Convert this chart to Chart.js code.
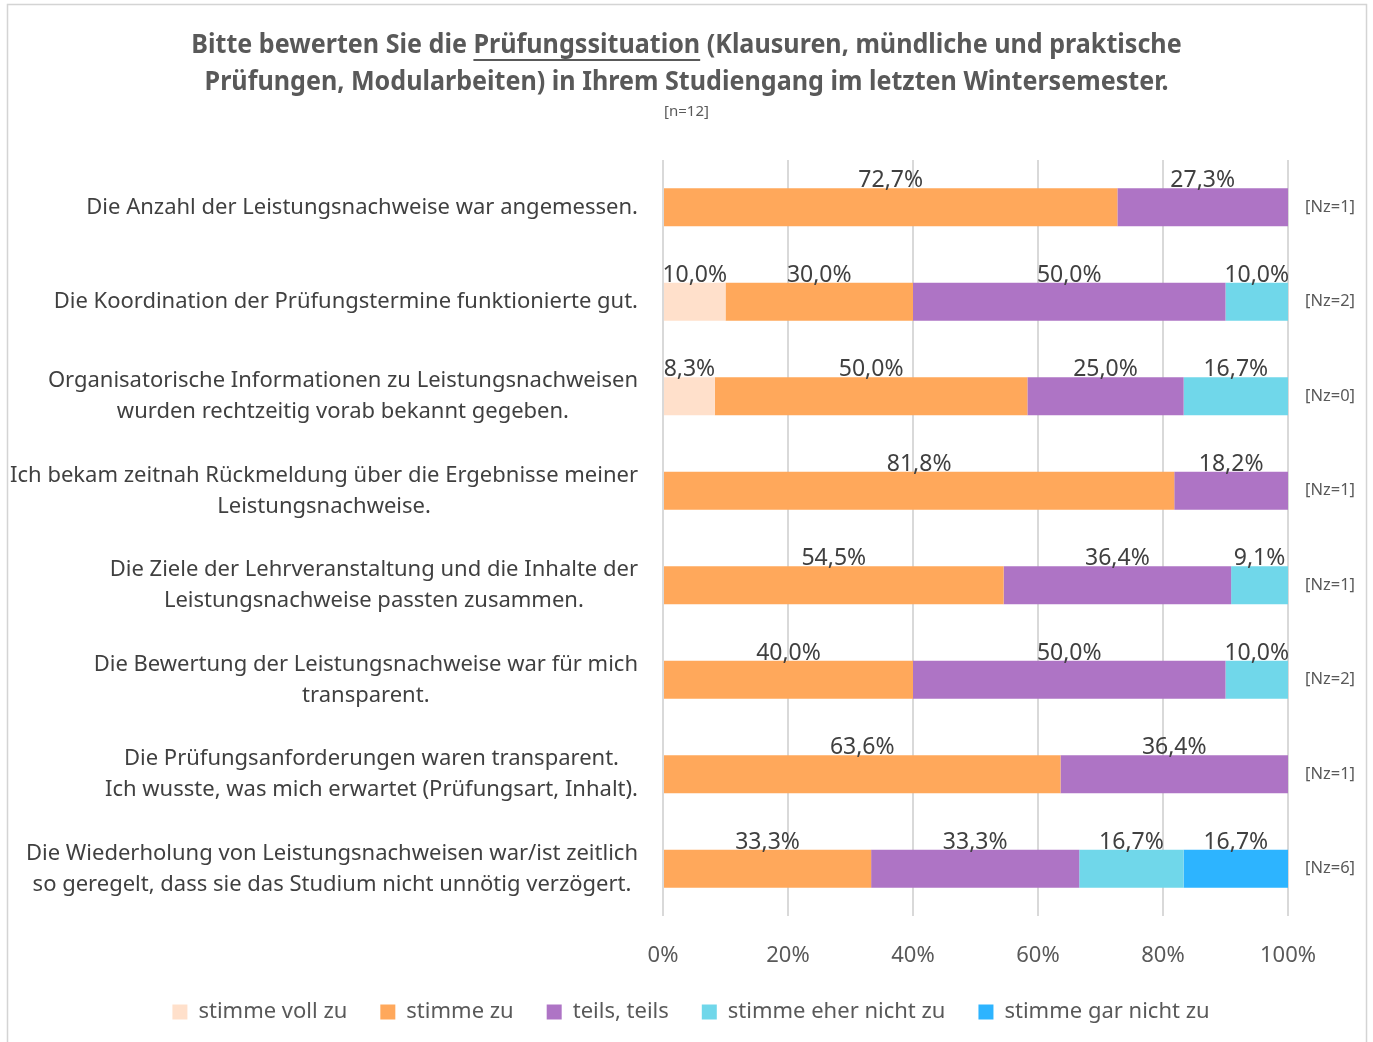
<!DOCTYPE html>
<html lang="de">
<head>
<meta charset="utf-8">
<script src="https://cdn.jsdelivr.net/npm/chart.js@4"></script>
<style>
  html, body { margin: 0; padding: 0; background: #fff; }
  #chart { display: block; }
</style>
</head>
<body>
<canvas id="chart" width="1373" height="1042"></canvas>
<script>
// Questions (y categories), one array per answer option, Nz counts
const questions = [
  'Die Anzahl der Leistungsnachweise war angemessen.',
  'Die Koordination der Prüfungstermine funktionierte gut.',
  ['Organisatorische Informationen zu Leistungsnachweisen', 'wurden rechtzeitig vorab bekannt gegeben.'],
  ['Ich bekam zeitnah Rückmeldung über die Ergebnisse meiner', 'Leistungsnachweise.'],
  ['Die Ziele der Lehrveranstaltung und die Inhalte der', 'Leistungsnachweise passten zusammen.'],
  ['Die Bewertung der Leistungsnachweise war für mich', 'transparent.'],
  ['Die Prüfungsanforderungen waren transparent.', 'Ich wusste, was mich erwartet (Prüfungsart, Inhalt).'],
  ['Die Wiederholung von Leistungsnachweisen war/ist zeitlich', 'so geregelt, dass sie das Studium nicht unnötig verzögert.']
];
const nzLabels = ['[Nz=1]', '[Nz=2]', '[Nz=0]', '[Nz=1]', '[Nz=1]', '[Nz=2]', '[Nz=1]', '[Nz=6]'];

const stimmeVollZu      = [0, 10.0, 8.3, 0, 0, 0, 0, 0];
const stimmeZu          = [72.7, 30.0, 50.0, 81.8, 54.5, 40.0, 63.6, 33.3];
const teilsTeils        = [27.3, 50.0, 25.0, 18.2, 36.4, 50.0, 36.4, 33.3];
const stimmeEherNichtZu = [0, 10.0, 16.7, 0, 9.1, 10.0, 0, 16.7];
const stimmeGarNichtZu  = [0, 0, 0, 0, 0, 0, 0, 16.7];

const xTicks = [0, 20, 40, 60, 80, 100];

const titleLine1 = ['Bitte bewerten Sie die ', 'Prüfungssituation', ' (Klausuren, mündliche und praktische'];
const titleLine2 = 'Prüfungen, Modularbeiten) in Ihrem Studiengang im letzten Wintersemester.';
const subTitle = '[n=12]';

const FONT = '"Noto Sans", "Open Sans", sans-serif';
const TITLE_SQUEEZE = 0.93;

const fmtPct = v => v.toFixed(1).replace('.', ',') + '%';

// Title, frame, category labels, Nz labels and segment values
const extras = {
  id: 'extras',
  afterDraw(chart) {
    const ctx = chart.ctx;
    const area = chart.chartArea;
    const yScale = chart.scales.y;
    const mid = chart.width / 2;
    ctx.save();

    ctx.strokeStyle = '#d4d4d4';
    ctx.lineWidth = 1.5;
    ctx.strokeRect(7.5, 4.5, 1359, 1100);

    // title (slightly condensed), underlined keyword
    ctx.save();
    ctx.translate(mid, 0);
    ctx.scale(TITLE_SQUEEZE, 1);
    ctx.fillStyle = '#595959';
    ctx.textBaseline = 'middle';
    ctx.font = 'bold 27px ' + FONT;
    let x = -ctx.measureText(titleLine1.join('')).width / 2;
    ctx.textAlign = 'left';
    titleLine1.forEach((part, k) => {
      ctx.fillText(part, x, 45);
      const w = ctx.measureText(part).width;
      if (k === 1) ctx.fillRect(x, 59, w, 2);
      x += w;
    });
    ctx.textAlign = 'center';
    ctx.fillText(titleLine2, 0, 82);
    ctx.restore();

    ctx.fillStyle = '#595959';
    ctx.textAlign = 'center';
    ctx.textBaseline = 'middle';
    ctx.font = '15px ' + FONT;
    ctx.fillText(subTitle, mid, 112);

    // category labels: block right-aligned, lines centered
    ctx.font = '22px ' + FONT;
    ctx.fillStyle = '#404040';
    questions.forEach((q, i) => {
      const lines = Array.isArray(q) ? q : [q];
      const w = Math.max(...lines.map(l => ctx.measureText(l).width));
      const cx = area.left - 25 - w / 2;
      const cy = yScale.getPixelForValue(i);
      lines.forEach((l, k) => ctx.fillText(l, cx, cy + (k - (lines.length - 1) / 2) * 31));
    });

    // Nz labels
    ctx.font = '16.5px ' + FONT;
    ctx.fillStyle = '#595959';
    nzLabels.forEach((t, i) => ctx.fillText(t, area.right + 42, yScale.getPixelForValue(i)));

    // segment values above the bars
    ctx.font = '23px ' + FONT;
    ctx.fillStyle = '#404040';
    ctx.textBaseline = 'bottom';
    chart.data.datasets.forEach((ds, di) => {
      chart.getDatasetMeta(di).data.forEach((bar, i) => {
        const v = ds.data[i];
        if (!v) return;
        ctx.fillText(fmtPct(v), (bar.x + bar.base) / 2, bar.y - bar.height / 2 + 4);
      });
    });
    ctx.restore();
  }
};

const makeSet = (label, data, color) => ({
  label, data, backgroundColor: color, borderWidth: 0,
  categoryPercentage: 1, barPercentage: 0.4
});

new Chart(document.getElementById('chart'), {
  type: 'bar',
  data: {
    labels: questions,
    datasets: [
      makeSet('stimme voll zu', stimmeVollZu, '#ffe0cb'),
      makeSet('stimme zu', stimmeZu, '#ffa85b'),
      makeSet('teils, teils', teilsTeils, '#ae74c5'),
      makeSet('stimme eher nicht zu', stimmeEherNichtZu, '#70d7ea'),
      makeSet('stimme gar nicht zu', stimmeGarNichtZu, '#2db4ff')
    ]
  },
  options: {
    indexAxis: 'y',
    responsive: false,
    animation: false,
    layout: { padding: { top: 160, right: 0, left: 9, bottom: 9 } },
    scales: {
      x: {
        stacked: true,
        min: 0,
        max: 100,
        afterBuildTicks: s => { s.ticks = xTicks.map(v => ({ value: v })); },
        afterFit: s => { s.height = 52; },
        grid: { color: '#d9d9d9', lineWidth: 2, drawTicks: false },
        border: { display: false },
        ticks: {
          padding: 27,
          color: '#595959',
          font: { family: FONT, size: 22 },
          callback: v => v + '%'
        }
      },
      y: {
        stacked: true,
        grid: { display: false },
        border: { display: false },
        ticks: { display: false },
        afterFit: s => { s.width = 654; }
      },
      // empty column on the right that holds the Nz labels
      nz: {
        type: 'category',
        position: 'right',
        grid: { display: false },
        border: { display: false },
        ticks: { display: false },
        afterFit: s => { s.width = 85; }
      }
    },
    plugins: {
      legend: {
        position: 'bottom',
        labels: {
          boxWidth: 15,
          boxHeight: 15,
          padding: 33,
          color: '#595959',
          font: { family: FONT, size: 22 }
        }
      },
      tooltip: { enabled: false }
    }
  },
  plugins: [extras]
});
</script>
</body>
</html>
